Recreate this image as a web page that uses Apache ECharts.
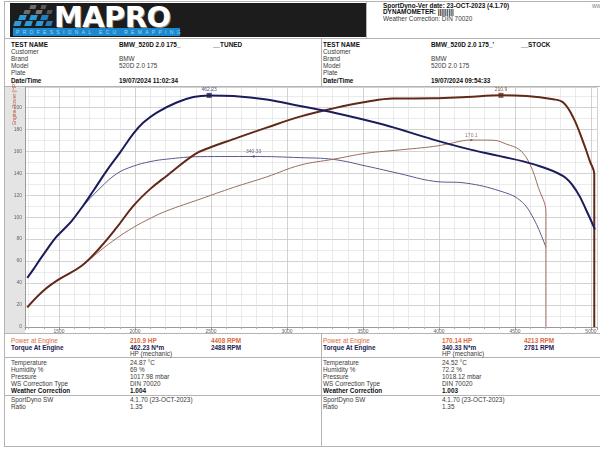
<!DOCTYPE html>
<html><head><meta charset="utf-8">
<script src="https://cdn.jsdelivr.net/npm/echarts@6.0.0/dist/echarts.min.js"></script>
<style>
html,body{margin:0;padding:0;background:#fff;}
#page{position:relative;width:600px;height:449px;overflow:hidden;font-family:"Liberation Sans",Arial,sans-serif;}
.t{position:absolute;font-size:6.4px;line-height:8px;white-space:nowrap;color:#3a3a3a;}
.b{font-weight:bold;color:#111;}
.o{color:#dc6a3c;}
.ob{color:#dc6a3c;font-weight:bold;}
.n{color:#1c1c52;font-weight:bold;}
.hl{position:absolute;height:1px;background:#b4b4b4;}
.vl{position:absolute;width:1px;background:#b4b4b4;}
#chart{position:absolute;left:0;top:0;width:600px;height:449px;}
.sq{position:absolute;transform:skewX(-18deg);}
</style></head>
<body><div id="page">
<!-- borders -->
<div class="hl" style="left:4px;top:1px;width:596px"></div>
<div class="vl" style="left:4px;top:1px;height:446px"></div>
<div class="hl" style="left:4px;top:38px;width:596px"></div>
<div class="vl" style="left:366px;top:1px;height:37px"></div>
<div class="vl" style="left:321px;top:38px;height:48px"></div>
<div class="hl" style="left:4px;top:86px;width:596px"></div>
<div class="hl" style="left:4px;top:333px;width:596px"></div>
<div class="vl" style="left:321px;top:333px;height:113px"></div>
<div class="hl" style="left:4px;top:357px;width:596px"></div>
<div class="hl" style="left:4px;top:395px;width:596px"></div>
<div class="hl" style="left:4px;top:446px;width:596px"></div>
<!-- logo -->
<div style="position:absolute;left:10px;top:3px;width:356px;height:34px;background:#1c1c1c"></div>
<div class="sq" style="left:30px;top:5px;width:6px;height:4px;background:#6d6d6d"></div>
<div class="sq" style="left:41px;top:5px;width:5px;height:4px;background:#5a5a5a"></div>
<div class="sq" style="left:24px;top:10px;width:6px;height:4px;background:#6d6d6d"></div>
<div class="sq" style="left:36px;top:10px;width:6px;height:4px;background:#7a7a7a"></div>
<div class="sq" style="left:47px;top:10px;width:5px;height:4px;background:#555"></div>
<div class="sq" style="left:19px;top:15px;width:7px;height:5px;background:#2a9ad8"></div>
<div class="sq" style="left:30px;top:15px;width:7px;height:5px;background:#2a9ad8"></div>
<div class="sq" style="left:41px;top:15px;width:7px;height:5px;background:#1f7fc0"></div>
<div class="sq" style="left:14px;top:21px;width:7px;height:5px;background:#2a9ad8"></div>
<div class="sq" style="left:25px;top:21px;width:7px;height:5px;background:#2a9ad8"></div>
<div class="sq" style="left:36px;top:21px;width:7px;height:5px;background:#2a9ad8"></div>
<div class="sq" style="left:46px;top:21px;width:6px;height:5px;background:#1f7fc0"></div>
<div style="position:absolute;left:54px;top:2.5px;font-family:'DejaVu Sans',sans-serif;font-weight:bold;font-size:29px;line-height:29px;color:#fff;text-shadow:1px 1px 0 #8a8a8a;letter-spacing:-0.6px">MAPRO</div>
<div style="position:absolute;left:13px;top:28px;width:167px;height:8px;background:#1e88cc"></div>
<div style="position:absolute;left:16px;top:29px;font-size:5px;line-height:6px;color:#9ad8ff;letter-spacing:3.3px;white-space:nowrap">PROFESSIONAL ECU REMAPPING</div>
<!-- header right -->
<div class="t b" style="left:383px;top:1.5px">SportDyno-Ver date: 23-OCT-2023 (4.1.70)</div>
<div class="t b" style="left:383px;top:8px">DYNAMOMETER: |||||||||</div>
<div class="t" style="left:383px;top:15px">Weather Correction: DIN 70020</div>
<div class="t" style="left:592px;top:1.5px;color:#888">www</div>
<!-- info table -->
<div class="t b" style="left:11px;top:40.5px">TEST NAME</div>
<div class="t b" style="left:119px;top:40.5px">BMW_520D 2.0 175_</div>
<div class="t b" style="left:213px;top:40.5px">__TUNED</div>
<div class="t" style="left:11px;top:47.7px">Customer</div>
<div class="t" style="left:11px;top:54.9px">Brand</div>
<div class="t" style="left:119px;top:54.9px">BMW</div>
<div class="t" style="left:11px;top:62.1px">Model</div>
<div class="t" style="left:119px;top:62.1px">520D 2.0 175</div>
<div class="t" style="left:11px;top:69.3px">Plate</div>
<div class="t b" style="left:11px;top:76.5px">Date/Time</div>
<div class="t b" style="left:119px;top:76.5px">19/07/2024 11:02:34</div>
<div class="t b" style="left:323px;top:40.5px">TEST NAME</div>
<div class="t b" style="left:431px;top:40.5px">BMW_520D 2.0 175_'</div>
<div class="t b" style="left:521px;top:40.5px">__STOCK</div>
<div class="t" style="left:323px;top:47.7px">Customer</div>
<div class="t" style="left:323px;top:54.9px">Brand</div>
<div class="t" style="left:431px;top:54.9px">BMW</div>
<div class="t" style="left:323px;top:62.1px">Model</div>
<div class="t" style="left:431px;top:62.1px">520D 2.0 175</div>
<div class="t" style="left:323px;top:69.3px">Plate</div>
<div class="t b" style="left:323px;top:76.5px">Date/Time</div>
<div class="t b" style="left:431px;top:76.5px">19/07/2024 09:54:33</div>
<!-- chart gray band -->
<div style="position:absolute;left:5px;top:87px;width:20px;height:246px;background:#e4e4e4"></div>
<!-- bottom table left -->
<div class="t o" style="left:11px;top:337px">Power at Engine</div>
<div class="t ob" style="left:130px;top:337px">210.9 HP</div>
<div class="t ob" style="left:211px;top:337px">4408 RPM</div>
<div class="t n" style="left:11px;top:343.5px">Torque At Engine</div>
<div class="t n" style="left:130px;top:343.5px">462.23 N*m</div>
<div class="t n" style="left:211px;top:343.5px">2488 RPM</div>
<div class="t" style="left:130px;top:350px">HP (mechanic)</div>
<div class="t" style="left:11px;top:359px">Temperature</div>
<div class="t" style="left:130px;top:359px">24.87 °C</div>
<div class="t" style="left:11px;top:366px">Humidity %</div>
<div class="t" style="left:130px;top:366px">69 %</div>
<div class="t" style="left:11px;top:373px">Pressure</div>
<div class="t" style="left:130px;top:373px">1017.98 mbar</div>
<div class="t" style="left:11px;top:380px">WS Correction Type</div>
<div class="t" style="left:130px;top:380px">DIN 70020</div>
<div class="t b" style="left:11px;top:387px">Weather Correction</div>
<div class="t b" style="left:130px;top:387px">1.004</div>
<div class="t" style="left:11px;top:396px">SportDyno SW</div>
<div class="t" style="left:130px;top:396px">4.1.70 (23-OCT-2023)</div>
<div class="t" style="left:11px;top:403px">Ratio</div>
<div class="t" style="left:130px;top:403px">1.35</div>
<!-- bottom table right -->
<div class="t o" style="left:323px;top:337px">Power at Engine</div>
<div class="t ob" style="left:442px;top:337px">170.14 HP</div>
<div class="t ob" style="left:524px;top:337px">4213 RPM</div>
<div class="t n" style="left:323px;top:343.5px">Torque At Engine</div>
<div class="t n" style="left:442px;top:343.5px">340.33 N*m</div>
<div class="t n" style="left:524px;top:343.5px">2781 RPM</div>
<div class="t" style="left:442px;top:350px">HP (mechanic)</div>
<div class="t" style="left:323px;top:359px">Temperature</div>
<div class="t" style="left:442px;top:359px">24.52 °C</div>
<div class="t" style="left:323px;top:366px">Humidity %</div>
<div class="t" style="left:442px;top:366px">72.2 %</div>
<div class="t" style="left:323px;top:373px">Pressure</div>
<div class="t" style="left:442px;top:373px">1018.12 mbar</div>
<div class="t" style="left:323px;top:380px">WS Correction Type</div>
<div class="t" style="left:442px;top:380px">DIN 70020</div>
<div class="t b" style="left:323px;top:387px">Weather Correction</div>
<div class="t b" style="left:442px;top:387px">1.003</div>
<div class="t" style="left:323px;top:396px">SportDyno SW</div>
<div class="t" style="left:442px;top:396px">4.1.70 (23-OCT-2023)</div>
<div class="t" style="left:323px;top:403px">Ratio</div>
<div class="t" style="left:442px;top:403px">1.35</div>
<div id="chart"></div>
</div>
<script>
// ---- data ----
const tunedTorqueRpm = [1291,1331,1375,1419,1474,1528,1584,1649,1726,1814,1901,1989,2055,2143,2274,2384,2488,2647,2866,3086,3305,3633,3963,4182,4401,4620,4818,4906,4971,5026];
const tunedTorque    = [98,115,135,154,177,194,212,238,272,312,348,386,408,428,448,459,462.23,461,454,441,428,404,374,356,341,325,301,271,232,195];

const tunedPowerRpm  = [1291,1397,1502,1649,1770,1880,1989,2099,2208,2395,2493,2647,2866,3086,3305,3524,3699,3963,4182,4408,4577,4752,4818,4884,4950,4993,5022,5022];
const tunedPower     = [17.9,33,43.6,55.7,72.4,90.6,110.3,125.5,137.5,157.3,163.4,171,181.5,191.5,199,205,208,208.2,209.4,210.9,210.3,207.3,204.3,190.6,168,151,139,0];

const stockTorqueRpm = [1291,1331,1375,1419,1474,1528,1584,1649,1770,1880,1989,2099,2208,2428,2781,3086,3305,3524,3743,3963,4182,4401,4533,4620,4704];
const stockTorque    = [98,115,135,154,177,194,212,238,277,306,321,330,335,340,340.33,338,334.5,321,306,291,287,271.5,253,218,159];

const stockPowerRpm  = [1291,1397,1502,1649,1770,1880,1989,2099,2208,2428,2647,2866,3086,3305,3524,3743,3963,4072,4182,4213,4357,4445,4533,4599,4654,4704,4704];
const stockPower     = [17.9,33,43.6,55.7,69.4,80.9,90.6,98.8,105.7,116.4,127,136.6,147.3,152.7,158.2,161.2,164.3,167,170,170.14,170,166.4,161,148,127,104.3,0];

const tunedTorquePeak = [2488, 462.23];
const tunedPowerPeak  = [4408, 210.9];
const stockTorquePeak = [2781, 340.33];
const stockPowerPeak  = [4213, 170.14];

const rpmRange   = [1276, 5040];
const hpRange    = [0, 218];
const torqueRange = [0, 478];
const yAxisName = 'Engine Power (HP)';

const pair = (xs, ys) => xs.map((x, i) => [x, ys[i]]);

const chart = echarts.init(document.getElementById('chart'), null, {renderer: 'canvas'});
const FF = '"Liberation Sans", Arial, sans-serif';
const peakSeries = (pt, axis, color, size, digits) => ({
  type: 'scatter', xAxisIndex: 0, yAxisIndex: axis, data: [pt], symbol: 'rect', symbolSize: size,
  itemStyle: {color: color}, z: 5, silent: true,
  label: {show: true, position: 'top', distance: 1, fontSize: 5, color: color, fontFamily: FF,
    formatter: p => p.value[1].toFixed(digits)}
});
const lineSeries = (name, axis, xs, ys, color, width) => ({
  name: name, type: 'line', yAxisIndex: axis, data: pair(xs, ys), symbol: 'none',
  smooth: 0.4, lineStyle: {color: color, width: width}
});
chart.setOption({
  animation: false,
  backgroundColor: 'transparent',
  textStyle: {fontFamily: FF},
  grid: {left: 25, right: 3, top: 87.5, bottom: 122, containLabel: false},
  xAxis: {
    type: 'value', min: rpmRange[0], max: rpmRange[1], splitNumber: 8, minInterval: 500, maxInterval: 500,
    axisLine: {show: true, lineStyle: {color: '#9a9a9a', width: 1}},
    axisTick: {show: true, length: 3, lineStyle: {color: '#9a9a9a'}},
    minorTick: {show: true, splitNumber: 5, length: 2, lineStyle: {color: '#b0b0b0'}},
    axisLabel: {fontSize: 5, color: '#666', margin: 2, formatter: v => (v % 500 === 0 ? String(v) : '')},
    splitLine: {show: true, lineStyle: {color: '#c6c6c6', width: 0.8}},
    minorSplitLine: {show: true, lineStyle: {color: '#e6e6e6', width: 0.8}}
  },
  yAxis: [{
    type: 'value', min: hpRange[0], max: hpRange[1], interval: 20, position: 'left',
    axisLine: {show: true, lineStyle: {color: '#9a9a9a', width: 1}},
    axisTick: {show: false},
    minorTick: {show: false, splitNumber: 2},
    axisLabel: {fontSize: 5, color: '#666', margin: 3, formatter: v => (v % 20 === 0 ? String(v) : '')},
    splitLine: {show: true, lineStyle: {color: '#c6c6c6', width: 0.8}},
    minorSplitLine: {show: true, lineStyle: {color: '#e6e6e6', width: 0.8}}
  }, {
    type: 'value', min: torqueRange[0], max: torqueRange[1], show: false, splitLine: {show: false}
  }],
  graphic: [{
    type: 'text', x: 15, y: 125, rotation: Math.PI / 2, z: 10,
    style: {text: yAxisName, fill: '#b8573a', fontSize: 5, fontFamily: FF, align: 'left', verticalAlign: 'middle'}
  }],
  series: [
    lineSeries('Stock torque', 1, stockTorqueRpm, stockTorque, '#58588c', 1),
    lineSeries('Stock power', 0, stockPowerRpm, stockPower, '#9c6c5e', 1),
    lineSeries('Tuned power', 0, tunedPowerRpm, tunedPower, '#62291a', 2),
    lineSeries('Tuned torque', 1, tunedTorqueRpm, tunedTorque, '#1b1d5a', 2),
    peakSeries(tunedTorquePeak, 1, '#1b1d5a', 5, 2),
    peakSeries(tunedPowerPeak, 0, '#62291a', 5, 1),
    peakSeries(stockTorquePeak, 1, '#3c3c70', 2, 2),
    peakSeries(stockPowerPeak, 0, '#7a5448', 2, 1)
  ]
});
</script>
</body></html>
